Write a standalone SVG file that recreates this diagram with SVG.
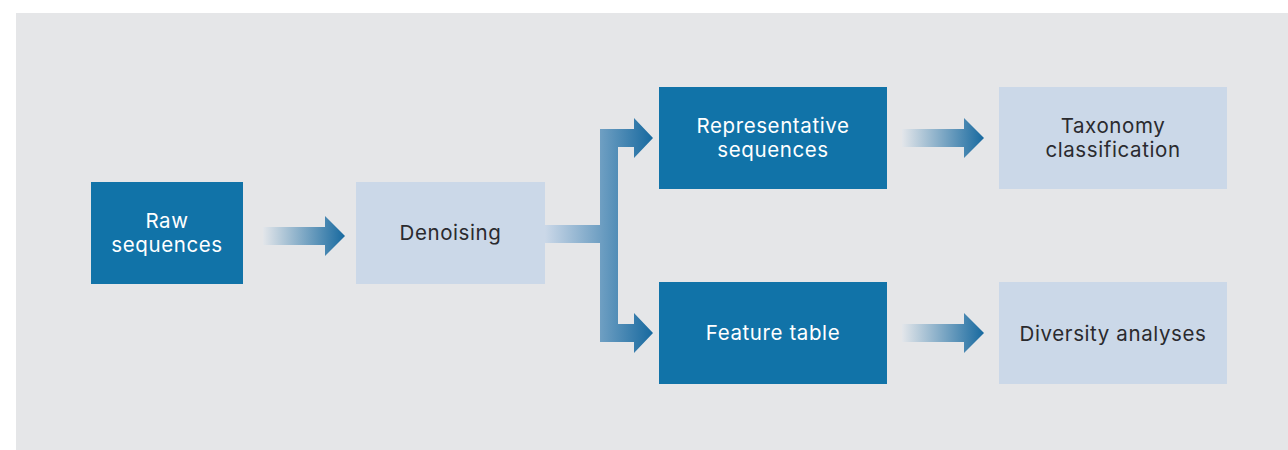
<svg xmlns="http://www.w3.org/2000/svg" width="1288" height="450" viewBox="0 0 1288 450">
<defs>
<style>
.dark{fill:#1173a8}
.light{fill:#cbd8e8}
.t{font-family:Inter,"Noto Sans","Liberation Sans",sans-serif;font-size:20.5px;letter-spacing:0.6px;text-anchor:middle}
.tw{fill:#ffffff}
.td{fill:#2a2a2e}
</style>
<linearGradient id="g1" gradientUnits="userSpaceOnUse" x1="263" y1="0" x2="345" y2="0">
<stop offset="0" stop-color="#e3e6ea"/><stop offset="1" stop-color="#17699f"/>
</linearGradient>
<linearGradient id="g2" gradientUnits="userSpaceOnUse" x1="545" y1="0" x2="653" y2="0">
<stop offset="0" stop-color="#cbd8e8"/><stop offset="1" stop-color="#17699f"/>
</linearGradient>
<linearGradient id="g3" gradientUnits="userSpaceOnUse" x1="902" y1="0" x2="984" y2="0">
<stop offset="0" stop-color="#e3e6ea"/><stop offset="1" stop-color="#17699f"/>
</linearGradient>
</defs>
<rect x="0" y="0" width="1288" height="450" fill="#ffffff"/>
<rect x="16" y="13" width="1272" height="437" fill="#e5e6e8"/>
<g id="connectors">
<path d="M263,227 H325 V216 L345,236 L325,256 V245 H263 Z" fill="url(#g1)"/>
<path d="M545,225 H600 V129 H634 V118 L653,138 L634,158 V147 H618 V324 H634 V313 L653,333 L634,353 V342 H600 V243 H545 Z" fill="url(#g2)"/>
<path d="M902,129 H964 V118 L984,138 L964,158 V147 H902 Z" fill="url(#g3)"/>
<path d="M902,324 H964 V313 L984,333 L964,353 V342 H902 Z" fill="url(#g3)"/>
</g>
<g id="raw">
<rect class="dark" x="91" y="182" width="152" height="102"/>
<text class="t tw" x="167" y="228">Raw</text>
<text class="t tw" x="167" y="252">sequences</text>
</g>
<g id="denoising">
<rect class="light" x="356" y="182" width="189" height="102"/>
<text class="t td" x="450.5" y="240">Denoising</text>
</g>
<g id="representative">
<rect class="dark" x="659" y="87" width="228" height="102"/>
<text class="t tw" x="773" y="133">Representative</text>
<text class="t tw" x="773" y="157">sequences</text>
</g>
<g id="feature">
<rect class="dark" x="659" y="282" width="228" height="102"/>
<text class="t tw" x="773" y="340">Feature table</text>
</g>
<g id="taxonomy">
<rect class="light" x="999" y="87" width="228" height="102"/>
<text class="t td" x="1113" y="133">Taxonomy</text>
<text class="t td" x="1113" y="157">classification</text>
</g>
<g id="diversity">
<rect class="light" x="999" y="282" width="228" height="102"/>
<text class="t td" x="1113" y="341">Diversity analyses</text>
</g>
</svg>
